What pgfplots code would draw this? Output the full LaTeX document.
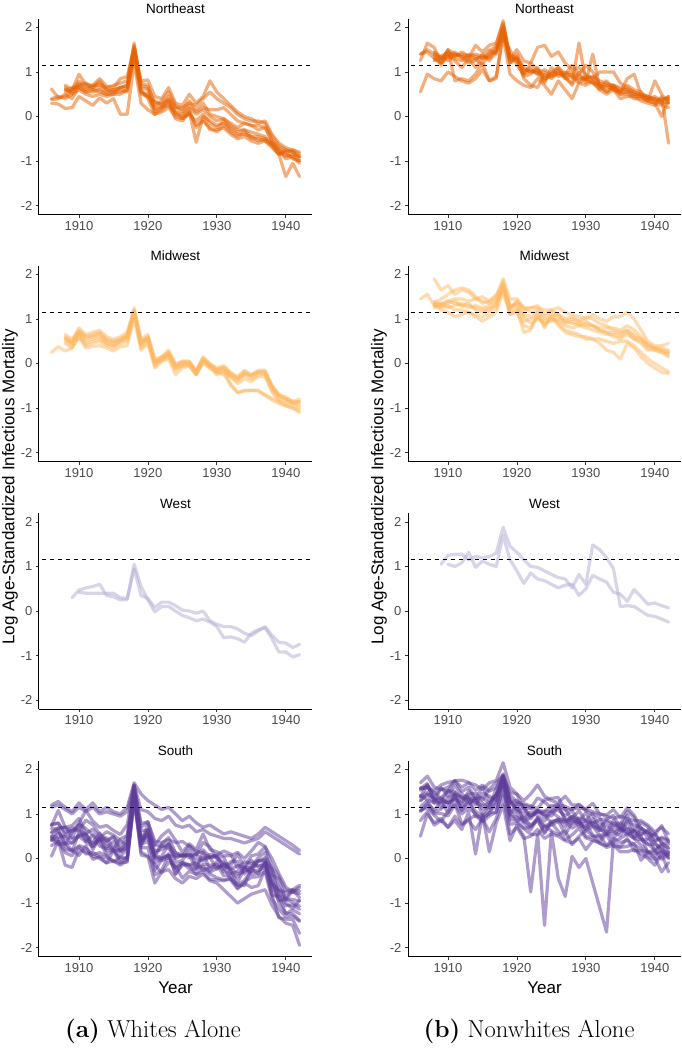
\documentclass[border=0pt]{standalone}
\usepackage{fontspec}
\usepackage{pgfplots}
\usepackage{pgfplotstable}
\pgfplotsset{compat=1.18}
\newfontfamily\rob{Liberation Sans}
\definecolor{cNE}{HTML}{E66101}
\definecolor{cMW}{HTML}{FDB863}
\definecolor{cW}{HTML}{B2ABD2}
\definecolor{cS}{HTML}{5E3C99}

% ---------------- Whites, Northeast
\pgfplotstableread{
yr A B C D E F G H I
1906 0.62 0.30 0.38 nan nan nan nan nan 0.40
1907 0.42 0.28 0.40 nan nan nan nan nan 0.45
1908 0.45 0.18 0.50 0.70 0.60 0.55 0.65 0.60 0.40
1909 0.60 0.20 0.40 0.60 0.55 0.60 0.50 0.65 0.50
1910 0.95 0.45 0.65 0.80 0.75 0.70 0.70 0.65 0.60
1911 0.72 0.35 0.55 0.70 0.60 0.65 0.75 0.55 0.50
1912 0.70 0.25 0.60 0.65 0.70 0.60 0.65 0.55 0.45
1913 0.85 0.42 0.55 0.75 0.70 0.65 0.80 0.60 0.50
1914 0.68 0.30 0.50 0.60 0.65 0.55 0.60 0.50 0.45
1915 0.65 0.40 0.55 0.60 0.70 0.60 0.55 0.50 0.50
1916 0.85 0.05 0.55 0.65 0.75 0.65 0.65 0.60 0.50
1917 0.90 0.05 0.60 0.70 0.80 0.65 0.70 0.55 0.60
1918 1.55 1.20 1.45 1.65 1.60 1.50 1.55 1.40 1.30
1919 0.80 0.30 0.55 0.65 0.70 0.55 0.75 0.60 0.50
1920 0.82 0.15 0.45 0.60 0.65 0.50 0.70 0.40 0.45
1921 0.45 0.05 0.20 0.10 0.30 0.15 0.25 0.05 0.35
1922 0.40 0.10 0.25 0.20 0.30 0.20 0.35 0.15 0.25
1923 0.65 0.20 0.35 0.35 0.40 0.25 0.55 0.30 0.45
1924 0.30 0.00 0.10 0.05 0.20 0.10 0.25 -0.05 0.20
1925 0.25 -0.05 0.05 0.00 0.10 -0.05 0.15 -0.10 0.20
1926 0.50 0.10 0.20 0.15 0.25 0.05 0.35 0.10 0.30
1927 0.30 -0.58 0.05 -0.25 0.10 -0.10 0.15 -0.20 0.25
1928 0.45 0.00 0.15 -0.10 0.20 0.05 0.30 -0.05 0.40
1929 0.80 -0.10 0.00 -0.25 0.15 -0.15 0.05 -0.30 0.55
1930 0.55 -0.20 -0.10 -0.35 0.15 -0.25 0.00 -0.30 0.40
1931 0.40 -0.15 -0.05 -0.20 0.20 -0.10 -0.05 -0.25 0.30
1932 0.25 -0.25 -0.20 -0.35 0.05 -0.30 -0.15 -0.40 0.20
1933 0.10 -0.35 -0.30 -0.45 -0.10 -0.40 -0.25 -0.50 0.05
1934 0.00 -0.30 -0.30 -0.35 -0.15 -0.40 -0.15 -0.45 -0.05
1935 -0.05 -0.45 -0.35 -0.50 -0.20 -0.45 -0.20 -0.55 -0.10
1936 -0.15 -0.45 -0.40 -0.50 -0.20 -0.55 -0.30 -0.60 -0.10
1937 -0.10 -0.50 -0.45 -0.55 -0.25 -0.50 -0.25 -0.55 -0.15
1938 -0.40 -0.65 -0.60 -0.65 -0.55 -0.60 -0.55 -0.70 -0.45
1939 -0.60 -0.85 -0.75 -0.85 -0.70 -0.80 -0.75 -0.85 -0.65
1940 -0.70 -1.35 -0.85 -0.75 -0.80 -0.90 -0.95 -0.80 -0.75
1941 -0.75 -1.05 -0.90 -0.80 -0.75 -0.85 -0.90 -0.95 -0.80
1942 -0.85 -1.35 -1.00 -0.95 -0.80 -0.90 -1.05 -1.00 -0.90
}\tabWNE

% ---------------- Nonwhites, Northeast
\pgfplotstableread{
yr A B C D E F G H I
1906 1.25 0.55 1.40 nan nan nan nan 1.40 nan
1907 1.65 0.95 1.50 nan nan nan nan 1.45 nan
1908 1.55 0.85 1.40 1.35 1.30 1.40 1.25 1.30 1.45
1909 1.20 0.80 1.30 1.15 1.25 1.30 1.35 1.20 1.35
1910 1.50 1.00 1.45 1.40 1.50 1.35 1.25 1.35 1.45
1911 1.40 0.90 1.35 1.25 0.80 1.30 1.40 1.45 1.35
1912 1.35 0.80 1.40 1.10 0.85 1.25 1.35 1.30 1.45
1913 1.30 0.75 1.35 1.30 0.80 1.40 1.25 1.20 1.35
1914 1.60 0.85 1.30 1.10 0.95 1.35 1.30 1.25 1.40
1915 1.45 1.05 1.35 1.30 1.20 1.30 1.15 1.40 1.35
1916 1.60 0.80 1.30 1.40 0.80 1.35 1.45 1.25 1.50
1917 1.65 0.90 1.50 1.45 0.85 1.55 1.60 1.45 1.40
1918 2.10 1.80 1.95 2.00 1.90 1.85 2.15 1.75 2.05
1919 1.30 0.95 1.35 1.20 1.25 1.20 1.30 1.50 1.35
1920 1.50 0.80 1.30 1.30 1.30 1.40 1.25 1.15 1.35
1921 1.25 0.70 1.05 0.95 0.85 1.00 0.90 0.95 1.10
1922 1.20 0.65 1.00 1.05 0.70 1.10 0.95 1.20 1.00
1923 1.55 0.85 1.05 0.95 0.65 0.95 1.10 1.05 1.00
1924 1.60 0.70 0.90 0.80 0.95 1.00 0.85 0.75 1.05
1925 1.35 0.50 0.95 1.00 0.85 0.90 0.90 1.10 0.95
1926 1.45 0.80 1.05 1.10 1.00 0.95 1.00 0.90 1.10
1927 1.20 0.60 0.90 0.85 0.90 1.00 0.85 0.95 0.95
1928 1.05 0.40 0.95 0.75 0.70 0.90 0.90 1.15 1.00
1929 1.10 0.75 0.85 1.65 1.00 0.80 0.75 0.95 0.90
1930 0.95 0.70 0.85 0.80 0.75 0.90 0.85 1.15 0.85
1931 0.85 0.80 0.80 0.75 1.40 0.85 0.75 1.00 0.90
1932 1.00 0.60 0.70 0.70 0.65 0.75 0.60 0.70 0.80
1933 1.00 0.50 0.65 0.55 0.80 0.70 0.70 0.55 0.75
1934 1.00 0.60 0.65 0.70 0.60 0.70 0.60 0.65 0.70
1935 0.75 0.40 0.55 0.50 0.55 0.60 0.50 0.55 0.65
1936 0.65 0.45 0.55 0.50 0.70 0.60 0.55 0.85 0.60
1937 0.55 0.45 0.50 0.40 0.60 0.55 0.45 0.95 0.50
1938 0.45 0.35 0.45 0.40 0.55 0.50 0.45 0.50 0.50
1939 0.35 0.30 0.40 0.35 0.40 0.40 0.35 0.45 0.45
1940 0.30 0.25 0.35 0.80 0.45 0.40 0.30 0.35 0.40
1941 0.25 0.45 0.40 0.50 0.35 0.30 0.00 0.30 0.35
1942 0.20 -0.60 0.40 0.30 0.45 0.35 0.40 0.30 0.45
}\tabNNE

% ---------------- Whites, Midwest
\pgfplotstableread{
yr A B C D E F G H
1906 0.25 nan nan nan nan nan nan nan
1907 0.38 nan nan nan nan nan nan nan
1908 0.28 0.60 0.55 0.50 0.45 0.65 0.55 0.58
1909 0.35 0.50 0.45 0.40 0.35 0.55 0.45 0.48
1910 0.60 0.80 0.70 0.65 0.60 0.75 0.70 0.72
1911 0.35 0.65 0.55 0.45 0.40 0.60 0.50 0.60
1912 0.38 0.70 0.60 0.50 0.45 0.65 0.55 0.62
1913 0.40 0.75 0.65 0.55 0.50 0.70 0.60 0.68
1914 0.35 0.60 0.50 0.45 0.40 0.55 0.45 0.52
1915 0.28 0.55 0.45 0.40 0.35 0.50 0.40 0.48
1916 0.38 0.60 0.55 0.50 0.45 0.55 0.50 0.52
1917 0.40 0.70 0.65 0.55 0.50 0.60 0.60 0.62
1918 1.00 1.25 1.20 1.15 1.10 1.20 1.15 1.18
1919 0.30 0.55 0.50 0.40 0.35 0.45 0.45 0.48
1920 0.45 0.65 0.60 0.55 0.50 0.60 0.55 0.58
1921 -0.10 0.10 0.05 0.00 -0.05 0.05 0.00 0.02
1922 0.05 0.15 0.10 0.10 0.05 0.15 0.10 0.12
1923 0.10 0.30 0.25 0.20 0.15 0.25 0.20 0.22
1924 -0.25 0.00 -0.05 -0.10 -0.15 -0.05 -0.10 -0.05
1925 -0.10 0.05 0.00 -0.05 -0.05 0.05 0.00 0.02
1926 -0.05 0.05 0.00 0.00 -0.05 0.05 0.00 0.02
1927 -0.25 -0.15 -0.20 -0.25 -0.25 -0.20 -0.20 -0.18
1928 0.00 0.15 0.10 0.05 0.05 0.10 0.05 0.12
1929 -0.10 0.00 -0.05 -0.05 -0.10 -0.05 -0.05 -0.02
1930 -0.20 -0.10 -0.15 -0.20 -0.25 -0.15 -0.20 -0.12
1931 -0.25 -0.05 -0.10 -0.15 -0.20 -0.10 -0.15 -0.08
1932 -0.45 -0.20 -0.25 -0.30 -0.30 -0.25 -0.50 -0.22
1933 -0.65 -0.30 -0.35 -0.40 -0.45 -0.35 -0.65 -0.32
1934 -0.60 -0.15 -0.20 -0.25 -0.35 -0.25 -0.62 -0.18
1935 -0.60 -0.25 -0.30 -0.35 -0.40 -0.25 -0.60 -0.28
1936 -0.60 -0.15 -0.20 -0.25 -0.30 -0.20 -0.62 -0.18
1937 -0.70 -0.15 -0.20 -0.25 -0.30 -0.25 -0.72 -0.18
1938 -0.78 -0.50 -0.55 -0.60 -0.65 -0.50 -0.82 -0.52
1939 -0.85 -0.70 -0.75 -0.80 -0.85 -0.70 -0.90 -0.72
1940 -0.95 -0.75 -0.80 -0.85 -0.90 -0.80 -0.95 -0.78
1941 -1.00 -0.85 -0.90 -0.90 -0.95 -0.85 -1.00 -0.88
1942 -1.10 -0.80 -0.85 -0.95 -1.00 -0.90 -1.05 -0.85
}\tabWMW

% ---------------- Nonwhites, Midwest
\pgfplotstableread{
yr A B C D E F G H
1906 1.45 nan nan nan nan nan nan nan
1907 1.55 nan nan nan nan nan nan nan
1908 1.30 1.90 1.30 1.35 1.35 1.25 1.30 1.40
1909 1.35 1.65 1.25 1.20 1.45 1.30 1.35 1.30
1910 1.40 1.75 1.30 1.15 1.55 1.40 1.25 1.35
1911 1.35 1.55 1.20 1.05 1.65 1.45 1.30 1.40
1912 1.30 1.65 1.20 1.10 1.70 1.45 1.35 1.30
1913 1.35 1.60 1.15 1.15 1.65 1.40 1.30 1.25
1914 1.20 1.45 1.10 1.05 1.50 1.45 1.25 1.30
1915 1.15 1.50 1.05 0.95 1.35 1.40 1.20 1.25
1916 1.25 1.40 1.15 1.05 1.40 1.35 1.20 1.30
1917 1.30 1.50 1.25 1.15 1.55 1.45 1.35 1.40
1918 1.70 1.90 1.80 1.60 1.75 1.85 1.65 1.75
1919 1.20 1.45 1.10 1.10 1.25 1.30 1.15 1.25
1920 1.40 1.45 1.20 1.15 1.40 1.30 1.25 1.35
1921 1.20 1.25 0.70 0.85 1.25 1.05 0.95 1.10
1922 1.25 1.25 0.75 0.80 1.15 0.90 1.00 1.05
1923 1.25 1.30 1.15 1.05 1.20 1.00 1.05 1.15
1924 1.20 1.10 0.80 0.85 1.05 0.95 0.90 1.00
1925 1.20 1.20 1.10 1.05 1.15 1.00 0.95 1.05
1926 1.25 1.10 0.90 0.85 1.05 0.95 1.00 1.10
1927 1.15 1.00 0.75 0.70 0.95 0.85 0.90 0.95
1928 1.10 1.05 0.70 0.65 1.00 0.80 0.95 0.90
1929 1.05 0.95 0.65 0.60 0.95 0.85 0.85 0.90
1930 1.00 0.95 0.55 0.60 1.05 0.80 0.90 0.85
1931 1.10 0.85 0.55 0.55 1.00 0.75 0.85 0.85
1932 1.00 0.80 0.45 0.55 0.90 0.70 0.75 0.75
1933 0.95 0.80 0.30 0.50 0.85 0.65 0.70 0.70
1934 1.05 0.80 0.25 0.45 0.75 0.65 0.70 0.60
1935 1.05 0.75 0.10 0.50 0.70 0.60 0.65 0.55
1936 1.15 0.85 0.45 0.50 0.75 0.70 0.75 0.65
1937 1.00 0.75 0.35 0.40 0.65 0.55 0.60 0.55
1938 0.75 0.60 0.15 0.25 0.55 0.50 0.55 0.45
1939 0.50 0.45 0.00 0.10 0.40 0.35 0.40 0.30
1940 0.40 0.35 -0.10 0.00 0.35 0.30 0.35 0.30
1941 0.40 0.30 -0.20 -0.10 0.35 0.25 0.30 0.25
1942 0.45 0.25 -0.22 -0.18 0.30 0.20 0.25 0.15
}\tabNMW

% ---------------- West
\pgfplotstableread{
yr A B
1909 0.30 nan
1910 0.47 0.42
1911 0.52 0.40
1912 0.55 0.40
1913 0.60 0.40
1914 0.35 0.40
1915 0.32 0.40
1916 0.25 0.30
1917 0.26 0.28
1918 1.05 0.95
1919 0.55 0.35
1920 0.25 0.28
1921 -0.02 0.08
1922 0.10 0.20
1923 0.10 0.20
1924 0.00 0.12
1925 -0.10 0.02
1926 -0.15 0.00
1927 -0.22 -0.05
1928 -0.18 0.00
1929 -0.25 -0.22
1930 -0.35 -0.30
1931 -0.60 -0.35
1932 -0.58 -0.35
1933 -0.62 -0.40
1934 -0.70 -0.50
1935 -0.50 -0.55
1936 -0.42 -0.45
1937 -0.38 -0.35
1938 -0.62 -0.55
1939 -0.92 -0.70
1940 -0.92 -0.72
1941 -1.03 -0.82
1942 -0.98 -0.75
}\tabWW

\pgfplotstableread{
yr A B
1909 1.05 nan
1910 1.25 1.05
1911 1.27 1.00
1912 1.28 1.08
1913 1.15 1.32
1914 1.22 0.98
1915 1.20 1.12
1916 1.22 1.05
1917 1.30 1.00
1918 1.88 1.70
1919 1.45 1.15
1920 1.32 0.90
1921 1.15 0.62
1922 1.00 0.85
1923 0.98 0.72
1924 0.90 0.68
1925 0.82 0.60
1926 0.75 0.52
1927 0.72 0.58
1928 0.52 0.60
1929 0.82 0.35
1930 0.60 0.50
1931 1.48 0.80
1932 1.38 0.72
1933 1.20 0.65
1934 0.95 0.42
1935 0.10 0.38
1936 0.12 0.22
1937 0.10 0.48
1938 0.00 0.32
1939 -0.10 0.15
1940 -0.12 0.18
1941 -0.18 0.12
1942 -0.25 0.07
}\tabNW

% ---------------- Whites, South
\pgfplotstableread{
yr c1 c2 c3 c4 c5 c6 c7 c8 c9 c10 c11 c12 c13 c14 c15 c16
1906 1.20 1.15 0.05 0.73 0.75 0.59 0.67 0.77 0.48 0.58 0.51 0.40 0.42 0.47 0.45 0.29
1907 1.28 1.20 0.40 1.08 0.79 0.69 0.67 0.80 0.62 0.65 0.47 0.57 0.45 0.37 0.31 0.39
1908 1.15 1.10 -0.15 0.70 0.58 0.70 0.71 0.53 0.31 0.34 0.51 0.47 0.28 0.13 0.35 0.19
1909 1.05 1.00 -0.20 0.60 0.69 0.74 0.47 0.64 0.60 0.35 0.45 0.34 0.15 0.06 0.18 0.19
1910 1.25 1.15 0.20 0.79 0.64 0.90 0.77 0.62 0.76 0.54 0.50 0.50 0.59 0.29 0.27 0.07
1911 1.10 1.05 0.15 1.08 0.86 0.56 0.67 0.56 0.38 0.55 0.37 0.54 0.42 0.23 0.10 0.29
1912 1.25 1.15 0.05 0.84 0.76 0.66 0.53 0.35 0.52 0.20 0.27 0.26 0.35 0.09 0.14 -0.02
1913 1.05 1.00 0.00 0.70 0.55 0.46 0.40 0.57 0.28 0.45 0.45 0.48 0.39 0.13 0.04 0.05
1914 1.15 1.05 -0.10 0.74 0.38 0.60 0.47 0.40 0.22 0.25 0.17 0.34 0.08 0.07 -0.10 0.02
1915 1.05 1.00 -0.05 0.63 0.48 0.53 0.22 0.50 0.25 0.38 0.20 0.16 0.18 -0.08 0.18 -0.05
1916 1.00 0.95 -0.15 0.54 0.28 0.40 0.44 0.19 0.15 0.15 0.04 0.21 -0.02 0.04 -0.09 -0.11
1917 1.15 1.05 -0.05 0.76 0.50 0.30 0.52 0.24 0.23 0.40 0.22 0.32 0.03 -0.02 -0.08 0.04
1918 1.70 1.65 1.30 1.66 1.64 1.52 1.53 1.61 1.52 1.45 1.41 1.42 1.49 1.34 1.33 1.42
1919 1.45 1.10 0.15 0.70 0.79 0.63 0.46 0.39 0.35 0.27 0.41 0.37 0.32 0.41 0.24 0.08
1920 1.30 1.05 0.05 0.83 0.82 0.62 0.56 0.77 0.55 0.65 0.65 0.47 0.38 0.51 0.24 0.04
1921 1.20 0.90 -0.55 0.30 0.39 0.09 0.31 0.16 0.05 0.01 -0.10 0.07 0.02 -0.27 -0.37 -0.14
1922 1.10 0.85 -0.30 0.51 0.36 0.33 0.27 0.20 0.30 0.05 0.01 0.00 -0.05 -0.03 -0.26 -0.32
1923 1.15 0.95 -0.25 0.64 0.42 0.47 0.34 0.33 0.22 0.32 0.07 0.07 0.02 0.11 0.08 -0.08
1924 1.00 0.75 -0.45 0.41 0.36 0.13 0.00 0.13 0.06 -0.09 0.05 -0.20 -0.22 -0.34 -0.36 -0.17
1925 0.85 0.70 -0.55 0.14 0.38 0.04 0.08 0.08 0.07 -0.04 0.06 -0.08 -0.10 -0.15 -0.10 -0.44
1926 0.95 0.75 -0.40 0.33 0.28 0.29 0.02 0.09 0.08 0.18 0.07 -0.14 -0.23 -0.14 -0.16 -0.29
1927 0.80 0.60 -0.45 0.20 0.08 0.16 0.10 -0.01 0.09 -0.16 -0.23 -0.20 -0.25 -0.09 -0.36 -0.35
1928 0.70 0.65 -0.35 0.55 0.36 0.12 0.20 -0.05 -0.02 0.01 0.15 -0.17 -0.12 -0.27 -0.30 -0.21
1929 0.75 0.55 -0.50 0.20 0.26 0.02 0.03 0.03 0.09 0.02 -0.27 -0.31 -0.15 -0.20 -0.47 -0.35
1930 0.65 0.50 -0.55 0.15 0.00 0.08 0.02 0.08 0.04 -0.24 -0.07 -0.22 -0.13 -0.18 -0.48 -0.43
1931 0.55 0.45 -0.70 0.06 -0.09 0.17 -0.14 -0.25 0.03 -0.12 -0.30 -0.13 -0.39 -0.19 -0.50 -0.48
1932 0.60 0.45 -0.85 0.06 -0.16 0.10 -0.24 -0.07 -0.32 -0.22 -0.33 -0.27 -0.39 -0.47 -0.43 -0.48
1933 0.55 0.40 -1.00 0.14 0.10 -0.21 -0.16 -0.06 -0.42 -0.35 -0.29 -0.54 -0.59 -0.60 -0.66 -0.68
1934 0.50 0.35 -0.90 0.00 -0.19 -0.07 -0.20 -0.35 -0.21 -0.29 -0.19 -0.23 -0.49 -0.61 -0.53 -0.55
1935 0.45 0.40 -0.80 0.17 0.06 -0.11 -0.20 -0.17 -0.04 -0.22 -0.36 -0.30 -0.28 -0.22 -0.42 -0.65
1936 0.55 0.45 -0.75 0.36 0.10 -0.06 0.02 -0.16 -0.20 -0.07 -0.32 -0.04 -0.27 -0.35 -0.41 -0.61
1937 0.70 0.60 -0.70 0.27 0.26 0.02 0.14 -0.15 -0.08 -0.02 -0.09 -0.06 -0.18 -0.09 -0.29 -0.24
1938 0.60 0.50 -1.05 -0.18 0.00 -0.22 -0.37 -0.53 -0.26 -0.57 -0.65 -0.46 -0.60 -0.83 -0.91 -0.82
1939 0.50 0.40 -1.30 -0.41 -0.34 -0.66 -0.46 -0.72 -0.81 -0.73 -0.95 -1.00 -0.86 -0.85 -1.14 -1.33
1940 0.40 0.30 -1.45 -0.72 -0.64 -0.86 -0.94 -0.75 -0.90 -1.00 -0.91 -1.24 -1.06 -1.23 -1.31 -1.36
1941 0.30 0.20 -1.50 -0.70 -0.76 -0.70 -0.71 -0.76 -0.92 -1.12 -0.99 -1.15 -1.04 -1.24 -1.29 -1.37
1942 0.18 0.10 -1.95 -0.60 -0.65 -0.88 -0.73 -0.79 -0.95 -0.94 -1.07 -1.24 -1.14 -1.39 -1.41 -1.68
}\tabWS

% ---------------- Nonwhites, South
\pgfplotstableread{
yr c1 c2 c3 c4 c5 c6 c7 c8 c9 c10 c11 c12 c13 c14 c15 c16
1906 0.50 0.85 1.70 1.58 1.57 1.38 1.57 1.53 1.39 1.42 1.31 1.16 1.29 1.06 1.06 1.09
1907 1.00 1.05 1.85 1.61 1.57 1.66 1.68 1.64 1.49 1.31 1.45 1.30 1.43 1.24 1.20 1.13
1908 0.80 0.75 1.60 1.42 1.52 1.33 1.28 1.48 1.34 1.26 1.36 1.04 1.24 1.08 1.01 0.97
1909 0.90 0.85 1.55 1.56 1.65 1.36 1.59 1.34 1.26 1.36 1.15 1.11 1.27 1.29 1.01 0.83
1910 0.70 0.70 1.60 1.51 1.71 1.52 1.40 1.25 1.53 1.24 1.17 1.37 1.25 1.03 0.96 1.06
1911 0.85 0.95 1.75 1.75 1.74 1.51 1.64 1.35 1.42 1.48 1.41 1.44 1.32 1.41 1.20 1.23
1912 0.65 0.75 1.60 1.76 1.50 1.35 1.44 1.26 1.22 1.35 1.10 1.38 1.15 1.07 1.00 0.78
1913 1.05 0.85 1.70 1.71 1.60 1.44 1.36 1.39 1.52 1.34 1.20 1.26 1.28 1.34 1.13 0.88
1914 0.10 0.65 1.65 1.53 1.34 1.47 1.35 1.20 1.34 1.26 1.36 1.32 1.06 0.94 1.01 0.97
1915 1.00 0.90 1.55 1.65 1.61 1.31 1.37 1.47 1.11 1.18 1.24 0.99 0.94 0.93 0.86 0.82
1916 0.15 0.60 1.70 1.51 1.29 1.56 1.23 1.40 1.15 1.25 1.14 1.20 1.08 1.00 1.03 0.96
1917 0.80 0.90 1.75 1.59 1.44 1.71 1.41 1.30 1.58 1.43 1.25 1.42 1.16 1.36 1.04 1.04
1918 1.20 1.40 2.15 1.90 1.82 1.87 1.84 1.87 1.85 1.71 1.80 1.72 1.76 1.74 1.58 1.60
1919 0.40 0.55 1.60 1.43 1.49 1.26 1.28 1.28 1.34 1.27 0.98 0.94 1.10 1.05 0.77 0.87
1920 0.75 0.70 1.45 1.27 1.44 1.21 1.30 1.05 1.08 1.11 1.25 0.93 0.98 0.83 0.79 0.86
1921 0.50 0.45 1.30 1.23 1.11 1.20 1.15 1.04 1.14 0.89 0.82 0.85 0.80 0.96 0.68 0.67
1922 -0.75 0.50 1.45 1.18 1.13 1.15 0.89 0.96 0.95 1.05 0.94 0.73 0.64 0.73 0.70 0.55
1923 0.55 0.65 1.65 1.12 1.36 1.03 1.08 1.08 1.07 0.96 1.06 0.92 0.90 0.85 0.89 0.53
1924 -1.50 0.45 1.40 1.32 1.27 1.05 0.93 1.06 0.99 0.84 0.98 0.73 0.71 0.59 0.56 0.73
1925 0.60 0.55 1.30 1.35 1.13 1.19 1.07 1.06 0.95 1.05 0.80 0.80 0.75 0.84 0.80 0.62
1926 -0.45 0.50 1.25 1.37 1.22 1.20 1.15 1.08 1.18 0.93 0.89 0.88 0.83 0.85 0.61 0.53
1927 -0.85 0.40 1.40 1.08 1.17 0.88 1.11 0.96 0.85 0.81 0.70 0.87 0.82 0.53 0.42 0.63
1928 0.05 0.35 1.20 1.11 1.10 0.91 0.86 1.07 0.85 0.95 0.95 0.77 0.68 0.81 0.53 0.31
1929 -0.20 0.45 1.20 1.13 1.22 1.07 0.91 0.84 0.80 0.72 0.86 0.82 0.77 0.86 0.68 0.50
1930 0.00 0.20 1.10 1.11 1.07 0.84 0.86 1.03 0.85 0.71 0.63 0.66 0.79 0.49 0.46 0.63
1931 -0.55 0.40 1.05 1.24 0.98 0.79 1.02 0.74 0.73 0.90 0.72 0.82 0.53 0.48 0.41 0.51
1932 -1.10 0.35 1.00 1.00 0.74 0.87 0.92 0.67 0.63 0.63 0.52 0.69 0.46 0.52 0.38 0.34
1933 -1.65 0.25 0.95 0.98 0.83 0.89 0.59 0.87 0.62 0.75 0.57 0.53 0.55 0.29 0.54 0.29
1934 0.40 0.30 0.90 1.10 0.74 0.97 0.85 0.78 0.60 0.63 0.55 0.72 0.46 0.45 0.27 0.37
1935 0.45 0.15 0.95 0.91 0.76 0.68 0.63 0.80 0.51 0.68 0.68 0.71 0.62 0.36 0.26 0.25
1936 0.55 0.15 0.90 1.14 1.06 0.97 0.85 0.67 0.84 0.52 0.59 0.58 0.67 0.41 0.45 0.27
1937 0.45 0.20 0.85 0.97 0.92 0.63 0.75 0.64 0.46 0.63 0.45 0.62 0.50 0.31 0.17 0.34
1938 0.30 0.10 0.85 0.69 0.54 0.81 0.69 0.54 0.68 0.46 0.42 0.42 0.51 0.21 0.18 -0.04
1939 0.15 0.00 0.75 0.56 0.65 0.71 0.45 0.62 0.58 0.33 0.43 0.32 0.13 0.04 0.15 0.14
1940 0.05 -0.15 0.60 0.53 0.41 0.54 0.56 0.38 0.16 0.19 0.36 0.32 0.13 -0.02 0.19 0.01
1941 0.20 0.10 0.70 0.74 0.45 0.36 0.35 0.48 0.30 0.33 0.15 0.25 0.13 0.05 -0.02 -0.30
1942 0.00 -0.30 0.55 0.36 0.38 0.23 0.32 0.42 0.13 0.23 0.16 0.01 0.07 0.12 0.09 -0.09
}\tabNS

\pgfplotsset{
  panel/.style={
    scale only axis, width=273pt, height=196pt, anchor=south west,
    xmin=1904.2, xmax=1943.8, ymin=-2.2, ymax=2.2,
    axis x line=bottom, axis y line=left,
    axis line style={-, line width=1pt, black},
    every outer x axis line/.append style={-},
    every outer y axis line/.append style={-},
    tick align=outside, major tick length=3pt,
    tick style={line width=0.8pt, black!80},
    xtick={1910,1920,1930,1940}, xticklabels={1910,1920,1930,1940},
    ytick={-2,-1,0,1,2}, yticklabels={-2,-1,0,1,2},
    tick label style={font=\rob\fontsize{13}{13}\selectfont, text=black!70},
    title style={font=\rob\fontsize{13.5}{13.5}\selectfont, at={(0.5,1)}, anchor=base, yshift=-1pt, inner sep=0pt},
    clip=false,
  },
  ln/.style={draw=#1, draw opacity=0.5, line width=3.2pt, line join=round, line cap=round, mark=none, forget plot},
  ref/.style={black, line width=0.9pt, dash pattern=on 4.5pt off 3.5pt, mark=none, forget plot},
  yearlab/.style={xlabel={Year}, xlabel style={font=\rob\fontsize{17}{17}\selectfont, at={(axis description cs:0.5,0)}, anchor=base, yshift=-36.5pt}},
}

\begin{document}
\begin{tikzpicture}[x=1pt,y=1pt]
\useasboundingbox (0pt,0pt) rectangle (682pt,-1050pt);

% ---------- left column (whites)
\begin{axis}[panel, at={(39pt,-214.5pt)}, title={Northeast}]
\pgfplotsinvokeforeach{1,...,9}{\addplot[ln=cNE] table[x index=0, y index=#1] {\tabWNE};}
\addplot[ref] coordinates {(1904.6,1.15) (1943.8,1.15)};
\end{axis}
\begin{axis}[panel, at={(39pt,-461.5pt)}, title={Midwest}]
\pgfplotsinvokeforeach{1,...,8}{\addplot[ln=cMW] table[x index=0, y index=#1] {\tabWMW};}
\addplot[ref] coordinates {(1904.6,1.15) (1943.8,1.15)};
\end{axis}
\begin{axis}[panel, at={(39pt,-709pt)}, title={West}]
\pgfplotsinvokeforeach{1,2}{\addplot[ln=cW] table[x index=0, y index=#1] {\tabWW};}
\addplot[ref] coordinates {(1904.6,1.15) (1943.8,1.15)};
\end{axis}
\begin{axis}[panel, at={(39pt,-956.5pt)}, title={South}, yearlab]
\pgfplotsinvokeforeach{1,...,16}{\addplot[ln=cS] table[x index=0, y index=#1] {\tabWS};}
\addplot[ref] coordinates {(1904.6,1.15) (1943.8,1.15)};
\end{axis}

% ---------- right column (nonwhites)
\begin{axis}[panel, at={(408pt,-214.5pt)}, title={Northeast}]
\pgfplotsinvokeforeach{1,...,9}{\addplot[ln=cNE] table[x index=0, y index=#1] {\tabNNE};}
\addplot[ref] coordinates {(1904.6,1.15) (1943.8,1.15)};
\end{axis}
\begin{axis}[panel, at={(408pt,-461.5pt)}, title={Midwest}]
\pgfplotsinvokeforeach{1,...,8}{\addplot[ln=cMW] table[x index=0, y index=#1] {\tabNMW};}
\addplot[ref] coordinates {(1904.6,1.15) (1943.8,1.15)};
\end{axis}
\begin{axis}[panel, at={(408pt,-709pt)}, title={West}]
\pgfplotsinvokeforeach{1,2}{\addplot[ln=cW] table[x index=0, y index=#1] {\tabNW};}
\addplot[ref] coordinates {(1904.6,1.15) (1943.8,1.15)};
\end{axis}
\begin{axis}[panel, at={(408pt,-956.5pt)}, title={South}, yearlab]
\pgfplotsinvokeforeach{1,...,16}{\addplot[ln=cS] table[x index=0, y index=#1] {\tabNS};}
\addplot[ref] coordinates {(1904.6,1.15) (1943.8,1.15)};
\end{axis}

% ---------- axis titles and captions
\node[rotate=90, font=\rob\fontsize{17}{17}\selectfont, anchor=center] at (10pt,-487pt) {Log Age-Standardized Infectious Mortality};
\node[rotate=90, font=\rob\fontsize{17}{17}\selectfont, anchor=center] at (379pt,-487pt) {Log Age-Standardized Infectious Mortality};
\node[font=\fontsize{24.5}{24.5}\selectfont, anchor=base] at (153pt,-1037pt) {\textbf{(a)} Whites Alone};
\node[font=\fontsize{24.5}{24.5}\selectfont, anchor=base] at (529pt,-1037pt) {\textbf{(b)} Nonwhites Alone};
\end{tikzpicture}
\end{document}
